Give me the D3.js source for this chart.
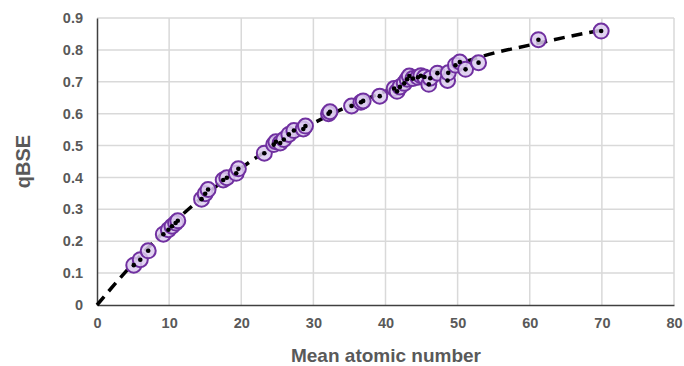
<!DOCTYPE html>
<html><head><meta charset="utf-8">
<script src="https://cdn.jsdelivr.net/npm/d3@7"></script>
<style>body{margin:0;background:#fff}svg{display:block}text{font-family:"Liberation Sans",Arial,sans-serif;font-weight:bold;fill:#595959}</style>
</head><body>
<svg id="c" width="684" height="366"></svg>
<script>
const meanZ = [5.1,6.0,7.1,9.2,9.9,10.4,10.9,11.2,14.5,15.0,15.4,17.5,18.0,19.3,19.6,23.2,24.5,24.8,25.4,25.9,26.6,27.3,28.6,28.9,32.1,32.3,35.3,36.6,36.9,39.2,41.2,41.6,42.0,42.6,43.0,43.3,43.8,44.5,44.9,45.4,46.0,46.2,47.2,48.6,48.7,49.7,50.3,51.1,52.9,61.2,69.9];
const qBSE  = [0.125,0.142,0.170,0.222,0.236,0.247,0.257,0.264,0.332,0.349,0.362,0.392,0.399,0.413,0.427,0.476,0.503,0.512,0.508,0.519,0.535,0.547,0.552,0.561,0.600,0.606,0.624,0.636,0.640,0.655,0.679,0.670,0.684,0.695,0.708,0.718,0.710,0.714,0.719,0.715,0.692,0.711,0.727,0.704,0.728,0.752,0.762,0.739,0.760,0.832,0.859];
const fitX = [0,5,10,15,20,25,30,35,40,45,50,55,60,65,70];
const fitY = [0,0.13,0.245,0.345,0.43,0.505,0.57,0.625,0.67,0.715,0.755,0.79,0.815,0.84,0.862];
const xTicks = [0,10,20,30,40,50,60,70,80];
const yTicks = [0,0.1,0.2,0.3,0.4,0.5,0.6,0.7,0.8,0.9];

const svg = d3.select("#c");
const L=97,R=674,T=18,B=305;
const x = d3.scaleLinear().domain([0,80]).range([L,R]);
const y = d3.scaleLinear().domain([0,0.9]).range([B,T]);

svg.append("g").selectAll("line").data(xTicks.slice(1)).join("line")
  .attr("x1",d=>x(d)).attr("x2",d=>x(d)).attr("y1",T).attr("y2",B)
  .attr("stroke","#d9d9d9").attr("stroke-width",1.5);
svg.append("g").selectAll("line").data(yTicks.slice(1)).join("line")
  .attr("x1",L).attr("x2",R).attr("y1",d=>y(d)).attr("y2",d=>y(d))
  .attr("stroke","#d9d9d9").attr("stroke-width",1.5);

const xa = svg.append("g").attr("transform",`translate(0,${B})`)
  .call(d3.axisBottom(x).tickValues(xTicks).tickSize(0).tickPadding(13).tickFormat(d3.format("d")));
const ya = svg.append("g").attr("transform",`translate(${L},0)`)
  .call(d3.axisLeft(y).tickValues(yTicks).tickSize(0).tickPadding(14).tickFormat(d=>d===0?"0":d3.format(".1f")(d)));
[xa,ya].forEach(a=>{
  a.select(".domain").attr("stroke","#404040").attr("stroke-width",1.5);
  a.selectAll("text").style("font-size","14.5px").attr("fill","#595959");
});

const line = d3.line().x(d=>x(d[0])).y(d=>y(d[1])).curve(d3.curveMonotoneX);
svg.append("path").datum(fitX.map((v,i)=>[v,fitY[i]])).attr("d",line)
  .attr("fill","none").attr("stroke","#000").attr("stroke-width",3.5)
  .attr("stroke-dasharray","11,7");

const pts = meanZ.map((v,i)=>[v,qBSE[i]]);
svg.append("g").selectAll("circle").data(pts).join("circle")
  .attr("cx",d=>x(d[0])).attr("cy",d=>y(d[1])).attr("r",7.5)
  .attr("fill","#dccbee").attr("fill-opacity",0.85).attr("stroke","#7030a0").attr("stroke-width",2);
svg.append("g").selectAll("circle").data(pts).join("circle")
  .attr("cx",d=>x(d[0])).attr("cy",d=>y(d[1])).attr("r",2.3).attr("fill","#000");

svg.append("text").attr("x",386).attr("y",362).attr("text-anchor","middle")
  .style("font-size","19px").text("Mean atomic number");
svg.append("text").attr("transform",`translate(30,${(T+B)/2}) rotate(-90)`).attr("text-anchor","middle")
  .style("font-size","20px").text("qBSE");
</script>
</body></html>
